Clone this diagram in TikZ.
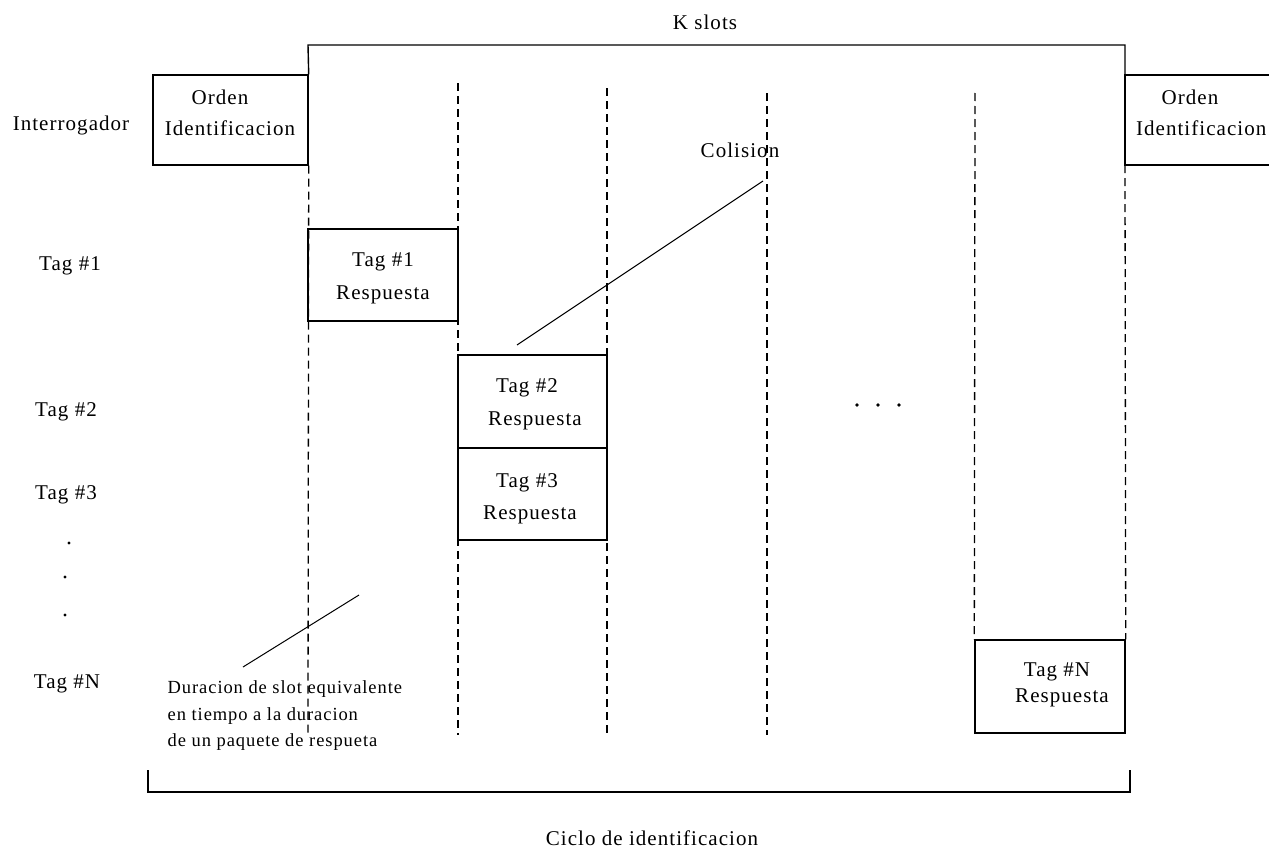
\documentclass[tikz,border=0pt]{standalone}
\usepackage{fontspec}
\setmainfont{Liberation Serif}[LetterSpace=5]
\begin{document}
\begin{tikzpicture}[x=1pt,y=-1pt, line width=1.4pt,
 box/.style={draw, rectangle, inner sep=0pt},
 lbl/.style={inner sep=0pt, font=\fontsize{21}{25}\selectfont},
 note/.style={inner sep=0pt, anchor=west, font=\fontsize{18.5}{22}\selectfont},
 slotline/.style={dash pattern=on 8pt off 5pt, line width=1.3pt},
 pointer/.style={line width=1pt}]
\useasboundingbox (0,0) rectangle (1269,851);

% boxes
\node[box, minimum width=155pt, minimum height=90pt] (ordL) at (230.5,120) {};
\node[box, minimum width=150pt, minimum height=92pt] (t1) at (383,275) {};
\node[box, minimum width=149pt, minimum height=93pt] (t2) at (532.5,401.5) {};
\node[box, minimum width=149pt, minimum height=92pt] (t3) at (532.5,494) {};
\node[box, minimum width=150pt, minimum height=93pt] (tN) at (1050,686.5) {};

% right open box
\coordinate (ordRnw) at (1125,75);
\coordinate (ordRsw) at (1125,165);
\coordinate (ordRne) at (1280,75);
\coordinate (ordRse) at (1280,165);
\draw (ordRne) -- (ordRnw) -- (ordRsw) -- (ordRse);

% K slots bracket
\coordinate (kL) at (308,45);
\coordinate (kR) at (1125,45);
\draw (ordL.north east) -- (kL) -- (kR) -- (ordRnw);

% slot lines
\coordinate (s1a) at (308,735);
\coordinate (s2a) at (458,83);  \coordinate (s2b) at (458,735);
\coordinate (s3a) at (607,88);  \coordinate (s3b) at (607,735);
\coordinate (s4a) at (767,93);  \coordinate (s4b) at (767,735);
\coordinate (s5a) at (975,93);
\draw[slotline] (ordL.south east) -- (s1a);
\draw[slotline] (s2a) -- (s2b);
\draw[slotline] (s3a) -- (s3b);
\draw[slotline] (s4a) -- (s4b);
\draw[slotline] (s5a) -- (tN.north west);
\draw[slotline] (ordRsw) -- (tN.north east);

% pointers
\coordinate (colA) at (517,345);
\coordinate (colB) at (763,181);
\draw[pointer] (colA) -- (colB);
\coordinate (durA) at (243,667);
\coordinate (durB) at (359,595);
\draw[pointer] (durA) -- (durB);

% bottom bracket
\coordinate (bL0) at (148,770);
\coordinate (bL1) at (148,792);
\coordinate (bR1) at (1130,792);
\coordinate (bR0) at (1130,770);
\draw (bL0) -- (bL1) -- (bR1) -- (bR0);

% texts
\node[lbl] (kslots) at (705,22) {K slots};
\node[lbl] (interr) at (71,125) {Interrogador};
\node[lbl] (oL1) at (220,97) {Orden};
\node[lbl] (oL2) at (230,128) {Identificacion};
\node[lbl] (oR1) at (1190,97) {Orden};
\node[lbl, anchor=east] (oR2) at (1267,128) {Identificacion};
\node[lbl] (colision) at (740,150) {Colision};
\node[lbl] (t1a) at (383,262) {Tag \#1};
\node[lbl] (t1b) at (383,295) {Respuesta};
\node[lbl] (t2a) at (527,388) {Tag \#2};
\node[lbl] (t2b) at (535,421) {Respuesta};
\node[lbl] (t3a) at (527,483) {Tag \#3};
\node[lbl] (t3b) at (530,515) {Respuesta};
\node[lbl] (tNa) at (1057,672) {Tag \#N};
\node[lbl] (tNb) at (1062,698) {Respuesta};

\node[lbl] (l1) at (70,266) {Tag \#1};
\node[lbl] (l2) at (66,412) {Tag \#2};
\node[lbl] (l3) at (66,495) {Tag \#3};
\node[lbl] (lN) at (67,684) {Tag \#N};
\fill (69,543) circle (1.6pt);
\fill (65,577) circle (1.6pt);
\fill (65,615) circle (1.6pt);
\fill (857,405) circle (1.8pt);
\fill (878,405) circle (1.8pt);
\fill (899,405) circle (1.8pt);

\node[note] (d1) at (167,689) {Duracion de slot equivalente};
\node[note] (d2) at (167,716) {en tiempo a la duracion};
\node[note] (d3) at (167,742) {de un paquete de respueta};

\node[lbl] (ciclo) at (652,838) {Ciclo de identificacion};
\end{tikzpicture}
\end{document}
